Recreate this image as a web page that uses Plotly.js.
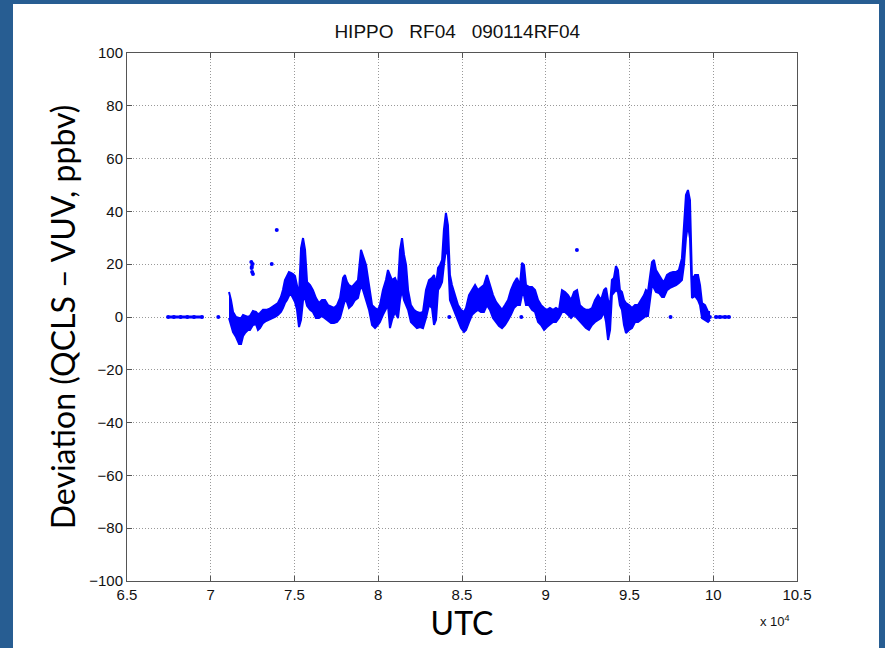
<!DOCTYPE html>
<html><head><meta charset="utf-8">
<script src="https://cdn.plot.ly/plotly-3.0.1.min.js"></script>
<style>
html,body{margin:0;padding:0;background:#275d92;width:885px;height:648px;overflow:hidden}
#chart{position:absolute;left:13px;top:4px;width:866px;height:644px;background:#fff}
</style></head><body><div id="chart"></div>
<script>
// Main continuous record: UTC (s) with upper / lower envelope of the dense point cloud (ppbv)
const bandUTC = [71090,71210,71330,71510,71690,71810,71930,72040,72220,72340,72520,72700,72820,72940,73120,73300,73480,73660,73840,74010,74190,74310,74430,74550,74670,74790,74910,75030,75150,75270,75390,75510,75630,75750,75930,76100,76280,76460,76640,76820,77000,77180,77360,77540,77720,77900,78010,78130,78250,78430,78610,78790,78970,79090,79270,79450,79630,79810,79980,80100,80280,80460,80580,80700,80820,81000,81180,81300,81420,81540,81660,81780,81950,82130,82310,82490,82670,82850,83030,83210,83330,83450,83570,83690,83810,83920,84040,84160,84280,84400,84580,84760,84940,85120,85240,85420,85600,85780,85950,86130,86310,86490,86670,86850,87030,87210,87390,87570,87750,87920,88100,88280,88460,88580,88700,88820,89000,89180,89360,89540,89720,89900,90070,90250,90430,90610,90790,90970,91150,91330,91510,91690,91870,92040,92220,92400,92580,92760,92940,93120,93300,93480,93600,93720,93840,93950,94070,94190,94310,94430,94550,94670,94790,94970,95150,95330,95510,95690,95870,95980,96100,96340,96460,96580,96760,96940,97060,97240,97420,97600,97780,97950,98130,98250,98370,98490,98610,98730,98910,99090,99210,99330,99510,99690,99810];
const bandHigh = [9.5,6.4,1.9,0,-0.4,-0.4,0.8,0.4,0,0.4,2.3,1.9,1.1,1.5,2.7,2.7,3.0,3.8,4.5,5.3,7.6,10.2,14.0,15.5,17.0,16.7,16.3,15.5,12.1,8.3,26.1,29.9,25.4,13.3,12.1,10.2,7.2,5.3,6.4,6.4,4.5,3.8,3.4,4.5,7.2,14.8,15.9,13.3,12.1,11.4,12.9,14.0,25.4,23.1,19.7,12.1,4.5,3.4,2.7,4.5,10.2,14.0,17.8,15.9,14.0,14.8,12.1,25.4,29.9,23.5,19.7,10.2,4.5,2.7,1.9,1.5,1.9,10.2,14.0,14.8,15.9,12.1,18.6,19.7,21.6,33.0,39.4,34.8,15.9,12.1,8.3,4.5,2.7,1.9,3.4,8.3,10.2,12.1,10.2,11.0,12.1,15.9,12.1,8.3,5.7,4.2,2.7,4.5,6.4,10.2,12.9,14.8,12.1,20.5,19.7,12.1,11.4,11.4,10.2,6.4,4.5,3.4,2.7,3.4,2.7,3.4,2.7,10.2,9.5,8.3,6.4,9.5,10.2,4.5,3.4,2.7,2.7,3.4,6.4,8.3,6.4,10.2,11.0,6.4,4.5,14.0,14.8,19.3,17.8,10.2,9.5,6.4,5.3,4.5,3.4,4.5,4.5,6.4,8.3,10.2,9.5,20.8,21.6,17.8,15.9,14.0,13.3,15.9,16.7,17.0,17.0,17.8,22.3,33.0,46.2,48.1,44.3,14.0,15.9,15.9,12.1,5.3,4.5,1.9,1.9];
const bandLow = [-0.4,-3.0,-5.7,-7.6,-10.2,-10.2,-7.2,-6.1,-4.9,-4.9,-3.0,-2.7,-4.9,-4.2,-2.3,-1.5,-1.1,-0.4,0,0.8,1.9,3.4,5.3,6.4,8.0,8.7,7.2,5.7,2.7,-3.8,-1.1,6.4,7.2,4.2,2.7,1.9,-0.4,-0.4,0.4,-0.4,-1.5,-2.3,-2.3,-1.9,-0.4,4.5,6.4,5.7,3.4,4.5,6.4,7.2,12.1,10.2,6.4,2.7,-3.0,-4.2,-3.0,-1.9,0.8,2.7,4.5,-4.2,-1.1,1.9,-0.4,6.4,10.2,6.4,4.5,2.7,-1.9,-3.0,-4.2,-3.8,-4.2,-0.4,4.5,3.4,-3.0,-1.1,10.2,11.4,13.3,19.7,25.4,23.5,6.4,4.5,1.5,-1.1,-4.2,-5.7,-4.9,-1.9,0.8,1.9,2.7,1.9,1.9,4.5,2.7,-0.4,-1.9,-3.4,-4.2,-3.0,-1.1,0.8,3.4,4.5,4.5,8.3,8.3,4.5,4.5,2.7,1.9,-1.9,-3.0,-4.9,-3.8,-3.0,-1.9,-1.9,-0.4,1.9,1.9,0.8,-0.4,0.8,-0.4,-1.9,-3.0,-4.2,-4.9,-3.0,-1.9,-1.1,-0.4,1.9,-1.9,-8.7,-4.9,8.3,9.5,10.2,9.5,4.5,2.7,-3.0,-6.1,-4.9,-4.2,-1.9,-1.9,-1.1,-0.4,0.4,0.4,12.1,11.0,9.5,9.1,7.6,7.6,10.2,11.0,11.4,12.1,12.9,14.0,19.7,29.9,34.8,29.9,7.2,8.0,6.4,4.5,-0.4,-1.1,-1.9,-1.1];

// Flat (zero) segments before and after the main record
const flatUTC1 = [67450,67800,68200,68600,69000,69480];
const flatDev1 = [0,0,0,0,0,0];
const flatUTC2 = [100160,100400,100700,100940];
const flatDev2 = [0,0,0,0];

// Isolated points / small clusters
const dotUTC = [70450,72420,72440,72470,72500,72520,72450,73640,73940,84240,88540,91860,97450,99800];
const dotDev = [0,20.8,18.6,17.0,20.1,16.3,19.0,20.1,33.0,0,0,25.4,0,0];

const xTickVals = [65000,70000,75000,80000,85000,90000,95000,100000,105000];
const xTickText = ['6.5','7','7.5','8','8.5','9','9.5','10','10.5'];
const yTickVals = [-100,-80,-60,-40,-20,0,20,40,60,80,100];

const BLUE = '#0000ff';
const traces = [
  {x: bandUTC, y: bandLow, type: 'scatter', mode: 'lines', line: {color: BLUE, width: 2}, hoverinfo: 'skip', showlegend: false},
  {x: bandUTC, y: bandHigh, type: 'scatter', mode: 'lines', fill: 'tonexty', fillcolor: BLUE, line: {color: BLUE, width: 2}, showlegend: false},
  {x: flatUTC1, y: flatDev1, type: 'scatter', mode: 'lines+markers', line: {color: BLUE, width: 3}, marker: {color: BLUE, size: 4}, showlegend: false},
  {x: flatUTC2, y: flatDev2, type: 'scatter', mode: 'lines+markers', line: {color: BLUE, width: 3}, marker: {color: BLUE, size: 4}, showlegend: false},
  {x: dotUTC, y: dotDev, type: 'scatter', mode: 'markers', marker: {color: BLUE, size: 4}, showlegend: false}
];

const axisCommon = {
  showline: true, linecolor: '#555', linewidth: 1, mirror: 'ticks',
  ticks: 'inside', ticklen: 5, tickcolor: '#555',
  showgrid: true, gridcolor: '#999', griddash: '1px,2px', gridwidth: 1,
  zeroline: false, tickfont: {family: 'Liberation Sans, Arial, sans-serif', size: 15, color: '#111'}
};

const layout = {
  width: 866, height: 644,
  margin: {l: 114, r: 82, t: 49, b: 67},
  paper_bgcolor: '#ffffff', plot_bgcolor: '#ffffff',
  title: {text: 'HIPPO\u00a0\u00a0\u00a0RF04\u00a0\u00a0\u00a0090114RF04', font: {family: 'Liberation Sans, Arial, sans-serif', size: 19, color: '#111'}, x: 0.513, xanchor: 'center', y: 1, yref: 'container', yanchor: 'top', pad: {t: 21}},
  xaxis: Object.assign({}, axisCommon, {
    range: [65000, 105000], tickvals: xTickVals, ticktext: xTickText,
    title: {text: 'UTC', font: {family: 'Lato, sans-serif', size: 32, color: '#000'}, standoff: 6}
  }),
  yaxis: Object.assign({}, axisCommon, {
    range: [-100, 100], tickvals: yTickVals,
    title: {text: 'Deviation (QCLS \u2013 VUV, ppbv)', font: {family: 'Lato, sans-serif', size: 32, color: '#000'}, standoff: 4}
  }),
  annotations: [
    {text: 'x 10<sup>4</sup>', xref: 'paper', yref: 'paper', x: 0.967, y: -0.076, xanchor: 'center', yanchor: 'middle', showarrow: false, font: {family: 'Liberation Sans, Arial, sans-serif', size: 13, color: '#111'}}
  ]
};

Plotly.newPlot('chart', traces, layout, {displayModeBar: false, staticPlot: true});
</script></body></html>
